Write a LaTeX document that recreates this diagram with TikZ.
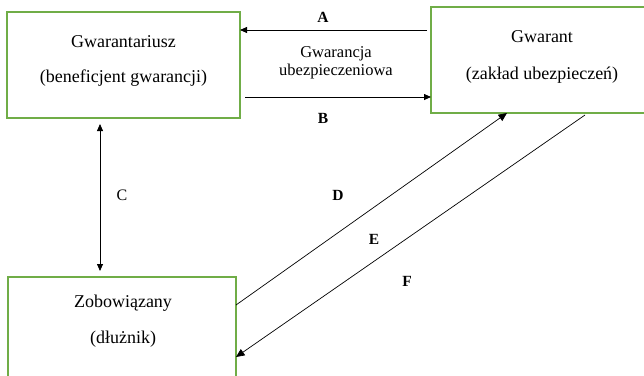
\documentclass[tikz,border=0pt]{standalone}
\usepackage{fontspec}
\setmainfont{Liberation Serif}
\usetikzlibrary{arrows.meta,calc}
\definecolor{boxgreen}{RGB}{112,173,71}
\begin{document}
\begin{tikzpicture}[x=1pt,y=-1pt,
  box/.style={draw=boxgreen,line width=1.4pt,minimum width=#1,inner sep=0pt,outer sep=0pt},
  txt/.style={font=\fontsize{18}{20}\selectfont,inner sep=0pt},
  mid/.style={font=\fontsize{16.5}{20}\selectfont,inner sep=0pt,align=center},
  lbl/.style={font=\fontsize{15.5}{17}\selectfont\bfseries,inner sep=0pt},
  lblr/.style={font=\fontsize{16}{17}\selectfont,inner sep=0pt},
  arr/.style={line width=0.8pt,-{Triangle[length=7pt,width=6pt]}},
  darr/.style={line width=0.8pt,{Triangle[length=7pt,width=6pt]}-{Triangle[length=7pt,width=6pt]}},
  thin/.style={line width=0.7pt,-{Triangle[length=8.5pt,width=7.5pt]}}]
\useasboundingbox (0,0) rectangle (644,375);
\clip (0,0) rectangle (644,375);
% boxes
\node[box=233pt,minimum height=106pt] (b1) at (123.5,65) {};
\node[box=222pt,minimum height=106pt] (b2) at (542,60) {};
\node[box=228pt,minimum height=120pt] (b3) at (122,337) {};
% texts
\node[txt] (t1a) at (123.5,42) {Gwarantariusz};
\node[txt] (t1b) at (123.5,78) {(beneficjent gwarancji)};
\node[txt] (t2a) at (542,37) {Gwarant};
\node[txt] (t2b) at (542,75) {(zakład ubezpieczeń)};
\node[txt] (t3a) at (123,303) {Zobowiązany};
\node[txt] (t3b) at (123,339) {(dłużnik)};
\node[mid] (gu) at (336,63) {Gwarancja\\[-2pt]ubezpieczeniowa};
% labels
\node[lbl] (lA) at (323,17) {A};
\node[lbl] (lB) at (323,118) {B};
\node[lblr] (lC) at (122,195) {C};
\node[lbl] (lD) at (338,195) {D};
\node[lbl] (lE) at (374,239) {E};
\node[lbl] (lF) at (407,281) {F};
% connectors
\coordinate (aS) at ($(b2.west)+(-4,-30)$);
\coordinate (aE) at (b1.east |- aS);
\draw[arr] (aS) -- (aE);
\coordinate (bS) at ($(b1.east)+(5,32)$);
\coordinate (bE) at (b2.west |- bS);
\draw[arr] (bS) -- (bE);
\coordinate (cS) at ($(b1.south)+(-23.5,6)$);
\coordinate (cE) at ($(b3.north)+(-22,-6)$);
\draw[darr] (cS) -- (cE);
\coordinate (dS) at (b3.east |- 0,305);
\coordinate (dE) at (507,113);
\draw[thin] (dS) -- (dE);
\coordinate (fS) at (585,115);
\coordinate (fE) at (b3.east |- 0,357);
\draw[thin] (fS) -- (fE);
\end{tikzpicture}
\end{document}
